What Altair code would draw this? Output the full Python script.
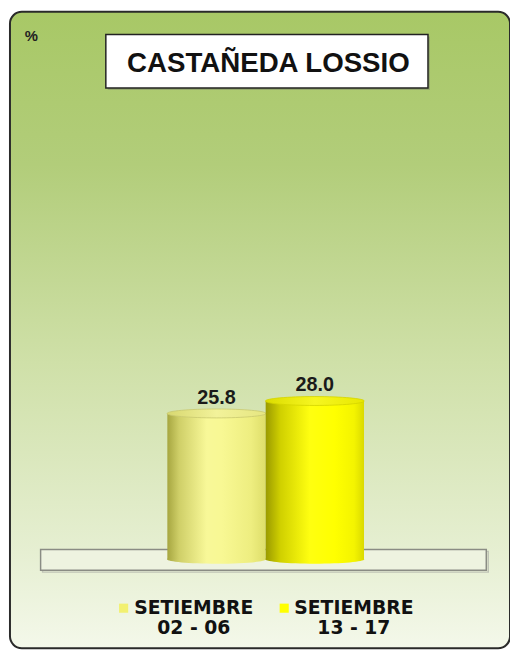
import altair as alt
import pandas as pd

# ---- data ----
periods = ["SETIEMBRE\n02 - 06", "SETIEMBRE\n13 - 17"]
values = [25.8, 28.0]
labels = ["25.8", "28.0"]
title_text = "CASTAÑEDA LOSSIO"
unit_text = "%"

df = pd.DataFrame({"period": periods, "value": values, "label": labels})
one = pd.DataFrame({"k": [0]})

W, H = 508, 646
FONT = "Liberation Sans"
LFONT = "DejaVu Sans"
BAR_W = 99.5

def lin(stops, vertical=False):
    return alt.Gradient(
        gradient="linear",
        stops=[alt.GradientStop(color=c, offset=o) for o, c in stops],
        x1=0, x2=0 if vertical else 1, y1=0, y2=1 if vertical else 0,
    )

bg_grad = lin([(0, "#a8c866"), (0.24, "#b2cd7a"), (0.55, "#cfe0a8"),
               (0.85, "#e6efd2"), (1, "#f4f8ea")], vertical=True)

bar_grads = [
    lin([(0, "#a6a640"), (0.12, "#cfcf68"), (0.4, "#f8f898"), (0.55, "#f8f894"),
         (0.85, "#eeee80"), (1, "#dede6a")]),
    lin([(0, "#9a9a00"), (0.15, "#d0d000"), (0.45, "#ffff10"), (0.7, "#ffff00"),
         (0.9, "#f4f400"), (1, "#dada00")]),
]
top_grads = [
    lin([(0, "#d8d870"), (0.5, "#f2f29a"), (1, "#e6e680")]),
    lin([(0, "#dcdc00"), (0.5, "#f6f620"), (1, "#e8e800")]),
]
legend_colors = ["#f2f070", "#ffff00"]
legend_x = [188, 350]
marker_x = [117, 279.5]

ELLIPSE = "M-1,0A1,0.09,0,1,1,1,0A1,0.09,0,1,1,-1,0Z"

xs = alt.X("period:N", axis=None,
           scale=alt.Scale(type="point", domain=periods, range=[211, 310.5], padding=0))
ys = alt.Y("value:Q", axis=None, scale=alt.Scale(domain=[-16.08, 96.85], nice=False, zero=False))
y0 = alt.Y2(datum=0)

# ---- decor ----
background = alt.Chart(one).mark_rect(
    cornerRadius=12, fill=bg_grad, stroke="#2a2a2a", strokeWidth=2
).encode(x=alt.value(2), x2=alt.value(508), y=alt.value(0), y2=alt.value(644))

floor_shadow = alt.Chart(one).mark_rect(
    fill="transparent", stroke="#c0c4b6", strokeWidth=1.5
).encode(x=alt.value(35), x2=alt.value(486), y=alt.value(546), y2=alt.value(567))

floor = alt.Chart(one).mark_rect(
    fill="#eef3e0", stroke="#8a8c84", strokeWidth=1.5
).encode(x=alt.value(33), x2=alt.value(484), y=alt.value(544), y2=alt.value(565))

title_shadow = alt.Chart(one).mark_rect(fill="#7f8c6a", opacity=0.5).encode(
    x=alt.value(101), x2=alt.value(427), y=alt.value(25), y2=alt.value(79))
title_box = alt.Chart(one).mark_rect(fill="white", stroke="#222", strokeWidth=1.5).encode(
    x=alt.value(99), x2=alt.value(425), y=alt.value(23), y2=alt.value(77))
title = alt.Chart(one).mark_text(
    text=title_text, font=FONT, fontSize=28, fontWeight="bold", color="#111",
    align="center", baseline="alphabetic"
).encode(x=alt.value(263.5), y=alt.value(61))

unit = alt.Chart(one).mark_text(
    text=unit_text, font=FONT, fontSize=15, fontWeight="bold", color="#222",
    align="left", baseline="alphabetic"
).encode(x=alt.value(17), y=alt.value(30))

# ---- bars (cylinders) ----
layers = [background, floor_shadow, floor, title_shadow, title_box, title, unit]
base = alt.Chart(df)
for i, p in enumerate(periods):
    f = alt.FieldEqualPredicate(field="period", equal=p)
    bottom = base.transform_filter(f).mark_point(
        shape=ELLIPSE, size=10000, filled=True, fill=bar_grads[i], opacity=1, strokeWidth=0
    ).encode(x=xs, y=alt.Y(datum=0, axis=None))
    body = base.transform_filter(f).mark_bar(
        fill=bar_grads[i], strokeWidth=0, width=BAR_W
    ).encode(x=xs, y=ys, y2=y0)
    top = base.transform_filter(f).mark_point(
        shape=ELLIPSE, size=10000, filled=True, fill=top_grads[i], opacity=1,
        stroke="#c8c870" if i == 0 else "#d4d400", strokeWidth=0.8
    ).encode(x=xs, y=ys)
    layers += [bottom, body, top]

value_labels = base.mark_text(
    font=FONT, fontSize=20, fontWeight="bold", color="#1a1a1a",
    baseline="alphabetic", dy=-10
).encode(x=xs, y=ys, text="label:N")
layers.append(value_labels)

# ---- legend ----
for i, p in enumerate(periods):
    f = alt.FieldEqualPredicate(field="period", equal=p)
    layers.append(base.transform_filter(f).mark_point(
        shape="square", size=85, filled=True, fill=legend_colors[i], opacity=1, strokeWidth=0
    ).encode(x=alt.value(marker_x[i]), y=alt.value(603.5)))
    layers.append(base.transform_filter(f).mark_text(
        font=LFONT, fontSize=19, fontWeight="bold", color="#111",
        align="center", baseline="alphabetic", lineBreak="\n", lineHeight=21
    ).encode(x=alt.value(legend_x[i]), y=alt.value(609), text="period:N"))

chart = alt.layer(*layers).properties(
    width=W, height=H, padding=0, autosize=alt.AutoSizeParams(type="none"),
    background="white"
).configure_view(strokeWidth=0)

chart.save("out.html", embed_options={"renderer": "svg", "actions": False})
